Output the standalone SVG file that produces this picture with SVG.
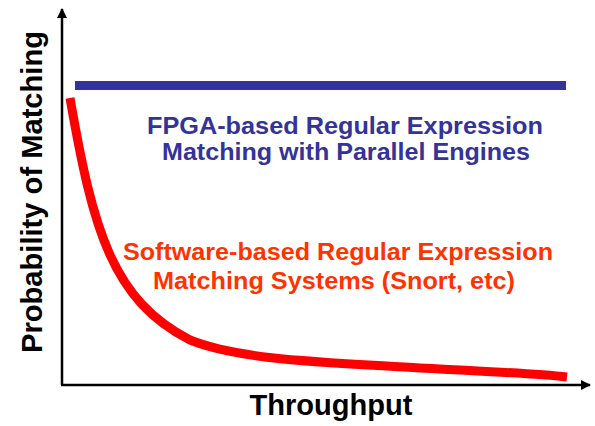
<svg xmlns="http://www.w3.org/2000/svg" width="595" height="426" viewBox="0 0 595 426">
<style>
.ax{stroke:#000;stroke-width:2.5;fill:none}
.t{font-family:"Liberation Sans",Arial,sans-serif;font-weight:bold;text-anchor:middle}
.blue{fill:#333399;font-size:23px}
.red{fill:#FF3300;font-size:23px}
.lbl{fill:#000;font-size:29px}
</style>
<defs>
<marker id="ah" viewBox="0 0 10 10" refX="9" refY="5" markerWidth="4" markerHeight="4" orient="auto" markerUnits="strokeWidth">
<path d="M0,0 L10,5 L0,10 z" fill="#000"/>
</marker>
</defs>
<g id="axes">
<line class="ax" x1="62" y1="385" x2="62" y2="9" marker-end="url(#ah)"/>
<line class="ax" x1="61" y1="385" x2="590" y2="385" marker-end="url(#ah)"/>
</g>
<g id="fpga">
<line x1="75" y1="85.5" x2="566" y2="85.5" stroke="#333399" stroke-width="9"/>
<text class="t blue" x="345" y="134" textLength="396" lengthAdjust="spacingAndGlyphs">FPGA-based Regular Expression</text>
<text class="t blue" x="346" y="160" textLength="368" lengthAdjust="spacingAndGlyphs">Matching with Parallel Engines</text>
</g>
<g id="software">
<path d="M70,98 C93,230 112,300 190,340 C240,360 320,362 420,368 C480,371 530,373 567,377" fill="none" stroke="#FF0000" stroke-width="9"/>
<text class="t red" x="338" y="260" textLength="430" lengthAdjust="spacingAndGlyphs">Software-based Regular Expression</text>
<text class="t red" x="334" y="289" textLength="362" lengthAdjust="spacingAndGlyphs">Matching Systems (Snort, etc)</text>
</g>
<g id="labels">
<text class="t lbl" x="331" y="415" textLength="163" lengthAdjust="spacingAndGlyphs">Throughput</text>
<text class="t lbl" transform="translate(42,192) rotate(-90)" x="0" y="0" textLength="322" lengthAdjust="spacingAndGlyphs">Probability of Matching</text>
</g>
</svg>
